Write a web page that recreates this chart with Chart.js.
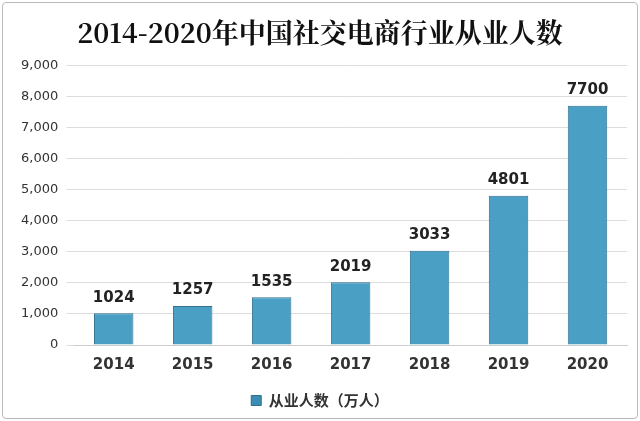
<!DOCTYPE html>
<html><head><meta charset="utf-8">
<script src="https://cdn.jsdelivr.net/npm/chart.js@4"></script>
<style>
body{margin:0;background:#fff}
#wrap{position:absolute;left:2px;top:2px;width:634px;height:415px;border:1px solid #bbb;border-radius:4px}
canvas{display:block}
</style></head><body>
<div id="wrap"><canvas id="c" width="634" height="415"></canvas></div>
<script>
const years = ["2014","2015","2016","2017","2018","2019","2020"];
const workers = [1024,1257,1535,2019,3033,4801,7700];
const seriesName = "从业人数（万人）";
const titleText = "2014-2020年中国社交电商行业从业人数";

const labelPlugin = {
  id: "labels",
  afterDatasetsDraw(chart) {
    const ctx = chart.ctx;
    const meta = chart.getDatasetMeta(0);
    ctx.save();
    ctx.font = "bold 15px 'DejaVu Sans', sans-serif";
    ctx.fillStyle = "#222";
    ctx.textAlign = "center";
    ctx.textBaseline = "bottom";
    meta.data.forEach((bar, i) => ctx.fillText(workers[i], bar.x, bar.y - 8));
    ctx.restore();
  }
};

const cv = document.getElementById("c");

new Chart(cv, {
  type: "bar",
  data: {
    labels: years,
    datasets: [{
      label: seriesName,
      data: workers,
      backgroundColor(ctx) {
        const el = ctx.element;
        if (!el || !isFinite(el.x) || !isFinite(el.width) || el.width <= 0) return "#4a9fc4";
        const x0 = el.x - el.width / 2;
        const gr = ctx.chart.ctx.createLinearGradient(x0, 0, x0 + el.width, 0);
        gr.addColorStop(0, "#3b8db3");
        gr.addColorStop(0.5, "#6bb6d6");
        gr.addColorStop(1, "#3b8db3");
        return gr;
      },
      borderColor: "#2f6f8f",
      borderWidth: 1,
      barPercentage: 0.5,
      categoryPercentage: 1
    }]
  },
  options: {
    responsive: false,
    animation: false,
    layout: { padding: { left: 10, right: 10, top: 0, bottom: 0 } },
    plugins: {
      title: {
        display: true, text: titleText, color: "#111",
        font: { size: 27, weight: "bold", family: "'Noto Serif CJK SC','DejaVu Serif',serif" },
        padding: { top: 14, bottom: 16 }
      },
      legend: {
        position: "bottom",
        labels: { boxWidth: 10, boxHeight: 10, color: "#333", padding: 16,
          font: { size: 15, weight: "bold", family: "'Noto Sans CJK SC',sans-serif" } }
      },
      tooltip: { enabled: false }
    },
    scales: {
      x: {
        grid: { display: false },
        border: { color: "#ccc" },
        ticks: { color: "#333", font: { size: 15, weight: "bold", family: "'DejaVu Sans',sans-serif" } }
      },
      y: {
        min: 0, max: 9000,
        ticks: { stepSize: 1000, color: "#333", padding: 8, font: { size: 13, family: "'DejaVu Sans',sans-serif" } },
        grid: { color: "#ddd" },
        border: { display: false }
      }
    }
  },
  plugins: [labelPlugin]
});
</script>
</body></html>
